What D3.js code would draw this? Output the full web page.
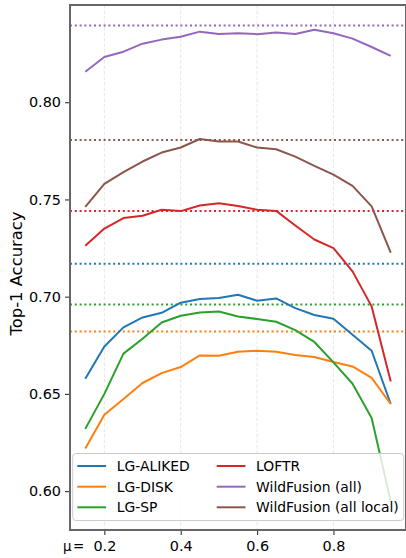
<!DOCTYPE html>
<html><head><meta charset="utf-8">
<script src="https://cdn.jsdelivr.net/npm/d3@7"></script>
<style>html,body{margin:0;padding:0;background:#fff;} svg{display:block;} svg text{font-family:"DejaVu Sans",sans-serif;font-size:13.9px;}</style>
</head><body>
<svg id="c" width="406" height="558"></svg>
<script>
const mu = [0.15,0.2,0.25,0.3,0.35,0.4,0.45,0.5,0.55,0.6,0.65,0.7,0.75,0.8,0.85,0.9,0.95];
const seriesNames = ["LG-ALIKED","LG-DISK","LG-SP","LOFTR","WildFusion (all)","WildFusion (all local)"];
const colors = ["#1f77b4","#ff7f0e","#2ca02c","#d62728","#9467bd","#8c564b"];
const lgAliked = [0.6578,0.6744,0.6842,0.6893,0.6917,0.6969,0.6988,0.6993,0.7010,0.6979,0.6991,0.6941,0.6906,0.6886,0.6804,0.6722,0.6448];
const lgDisk   = [0.6219,0.6393,0.6474,0.6556,0.6607,0.6638,0.6698,0.6696,0.6717,0.6722,0.6717,0.6700,0.6690,0.6664,0.6641,0.6582,0.6448];
const lgSp     = [0.6320,0.6500,0.6707,0.6784,0.6867,0.6902,0.6919,0.6924,0.6898,0.6885,0.6871,0.6828,0.6767,0.6662,0.6552,0.6376,0.5947];
const loftr    = [0.7262,0.7350,0.7404,0.7416,0.7447,0.7440,0.7469,0.7481,0.7466,0.7447,0.7441,0.7366,0.7294,0.7250,0.7130,0.6950,0.6564];
const wfAll    = [0.8157,0.8233,0.8260,0.8301,0.8322,0.8337,0.8363,0.8351,0.8355,0.8350,0.8358,0.8351,0.8373,0.8355,0.8327,0.8284,0.8238];
const wfLocal  = [0.7462,0.7580,0.7640,0.7695,0.7741,0.7767,0.7811,0.7798,0.7798,0.7767,0.7758,0.7720,0.7673,0.7628,0.7570,0.7464,0.7227];
const baselines = [0.7169,0.6821,0.6960,0.7441,0.8394,0.7806];
const xTicks = [0.2,0.4,0.6,0.8];
const yTicks = [0.60,0.65,0.70,0.75,0.80];
const allSeries = [lgAliked,lgDisk,lgSp,loftr,wfAll,wfLocal];

const svg = d3.select("#c");
const L=70, R=406, T=5, B=530;
const x = d3.scaleLinear().domain([0.11,0.99]).range([L,R]);
const y = d3.scaleLinear().domain([0.58,0.85]).range([B,T]);
const FS = "13.9px", TFS = "14.4px";

svg.append("defs").append("clipPath").attr("id","clip")
  .append("rect").attr("x",L).attr("y",T).attr("width",R-L).attr("height",B-T);

// grid
svg.append("g").selectAll("line").data(xTicks).join("line")
  .attr("x1",d=>x(d)).attr("x2",d=>x(d)).attr("y1",T).attr("y2",B)
  .attr("stroke","#e6e6e6").attr("stroke-width",1).attr("stroke-dasharray","3.5,2");

const plot = svg.append("g").attr("clip-path","url(#clip)");
const line = d3.line().x((d,i)=>x(mu[i])).y(d=>y(d));
allSeries.forEach((s,k)=>{
  plot.append("line").attr("x1",L).attr("x2",R).attr("y1",y(baselines[k])).attr("y2",y(baselines[k]))
    .attr("stroke",colors[k]).attr("stroke-width",2).attr("stroke-dasharray","2,2.8");
});
allSeries.forEach((s,k)=>{
  plot.append("path").datum(s).attr("d",line).attr("fill","none")
    .attr("stroke",colors[k]).attr("stroke-width",2).attr("stroke-linejoin","round");
});

// axes
const xAxis = d3.axisBottom(x).tickValues(xTicks).tickFormat(d3.format(".1f")).tickSize(5).tickPadding(6);
const gx = svg.append("g").attr("transform",`translate(0,${B})`).call(xAxis);
const yAxis = d3.axisLeft(y).tickValues(yTicks).tickFormat(d3.format(".2f")).tickSize(5).tickPadding(4);
const gy = svg.append("g").attr("transform",`translate(${L},0)`).call(yAxis);
[gx,gy].forEach(g=>{
  g.attr("font-size",null).attr("font-family",null);
  g.select(".domain").remove();
  g.selectAll(".tick line").attr("stroke","#333").attr("stroke-width",1.1);
  g.selectAll(".tick text").style("font-size",TFS).attr("fill","#000");
});
gx.selectAll(".tick text").attr("dy","0.71em");

// spines
svg.append("rect").attr("x",L).attr("y",T).attr("width",R-L).attr("height",B-T)
  .attr("fill","none").attr("stroke","#666").attr("stroke-width",2);

svg.append("text").attr("x",63).attr("y",551).style("font-size","13.4px").text("μ");
svg.append("text").attr("x",73).attr("y",551).style("font-size","13.4px").text("=");

svg.append("text").attr("transform","translate(22,273.5) rotate(-90)")
  .attr("text-anchor","middle").style("font-size","16.4px").text("Top-1 Accuracy");

// legend
const lg = svg.append("g");
lg.append("rect").attr("x",72.7).attr("y",453.5).attr("width",331).attr("height",67)
  .attr("rx",3).attr("fill","#fff").attr("fill-opacity",0.8).attr("stroke","#cccccc").attr("stroke-width",1);
const colX = [77.3,216.7];
const rowY = [466,486.7,507.3];
seriesNames.forEach((n,k)=>{
  const cx = colX[Math.floor(k/3)], cy = rowY[k%3];
  lg.append("line").attr("x1",cx).attr("x2",cx+28.8).attr("y1",cy).attr("y2",cy)
    .attr("stroke",colors[k]).attr("stroke-width",2);
  lg.append("text").attr("x",cx+39.4).attr("y",cy).attr("dy","0.36em")
    .style("font-size",FS).text(n);
});
</script>
</body></html>
